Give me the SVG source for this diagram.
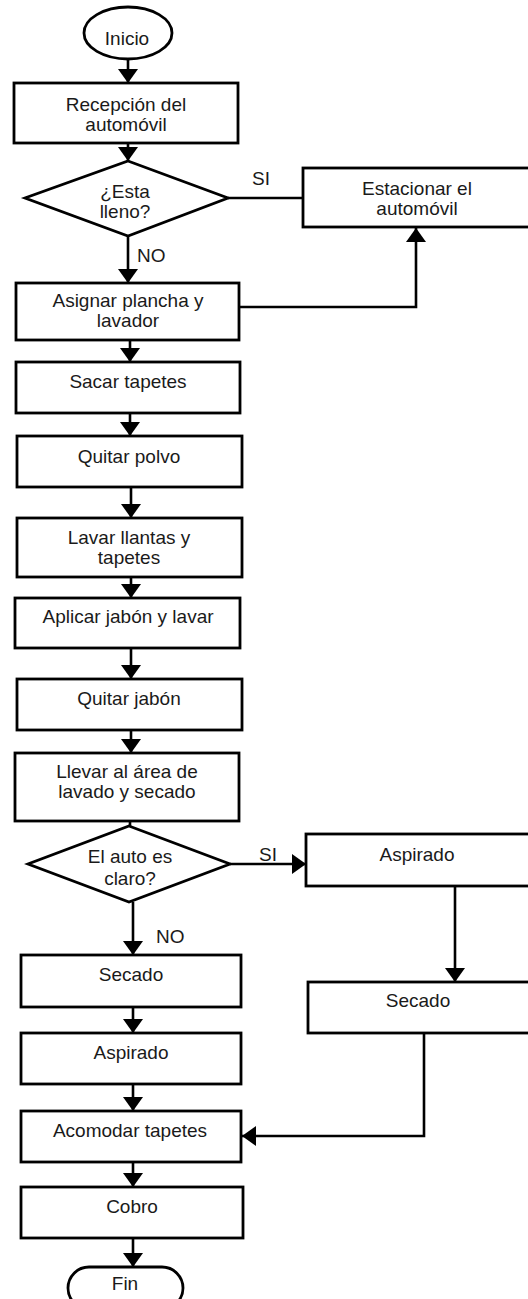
<svg xmlns="http://www.w3.org/2000/svg" width="528" height="1299" viewBox="0 0 528 1299">
<style>
.box{fill:#fff;stroke:#000;stroke-width:2.8}
.t{font-family:"Liberation Sans",Arial,sans-serif;font-size:19px;fill:#1a1a1a;text-anchor:middle}
.lbl{font-family:"Liberation Sans",Arial,sans-serif;font-size:19px;fill:#1a1a1a}
.c{fill:none;stroke:#000;stroke-width:2.6}
</style>
<defs>
<marker id="ah" markerUnits="userSpaceOnUse" markerWidth="14" markerHeight="20" refX="14" refY="10" orient="auto">
<path d="M0,0 L14,10 L0,20 z" fill="#000"/>
</marker>
</defs>
<rect width="528" height="1299" fill="#fff"/>
<g id="connectors">
<line class="c" x1="128" y1="59" x2="128" y2="83" marker-end="url(#ah)"/>
<line class="c" x1="128" y1="143" x2="128" y2="161" marker-end="url(#ah)"/>
<line class="c" x1="228" y1="198" x2="303" y2="198"/>
<line class="c" x1="128" y1="236" x2="128" y2="283" marker-end="url(#ah)"/>
<polyline class="c" points="239,307 416,307 416,228" marker-end="url(#ah)"/>
<line class="c" x1="130" y1="340" x2="130" y2="362" marker-end="url(#ah)"/>
<line class="c" x1="130" y1="413" x2="130" y2="436" marker-end="url(#ah)"/>
<line class="c" x1="131" y1="487" x2="131" y2="518" marker-end="url(#ah)"/>
<line class="c" x1="131" y1="577" x2="131" y2="598" marker-end="url(#ah)"/>
<line class="c" x1="131" y1="648" x2="131" y2="679" marker-end="url(#ah)"/>
<line class="c" x1="131" y1="730" x2="131" y2="753" marker-end="url(#ah)"/>
<line class="c" x1="130" y1="821" x2="130" y2="826"/>
<line class="c" x1="230" y1="864" x2="306" y2="864" marker-end="url(#ah)"/>
<line class="c" x1="133" y1="902" x2="133" y2="955" marker-end="url(#ah)"/>
<line class="c" x1="455" y1="886" x2="455" y2="982" marker-end="url(#ah)"/>
<polyline class="c" points="424,1033 424,1136 242,1136" marker-end="url(#ah)"/>
<line class="c" x1="133" y1="1007" x2="133" y2="1033" marker-end="url(#ah)"/>
<line class="c" x1="133" y1="1084" x2="133" y2="1111" marker-end="url(#ah)"/>
<line class="c" x1="133" y1="1162" x2="133" y2="1187" marker-end="url(#ah)"/>
<line class="c" x1="133" y1="1238" x2="133" y2="1267" marker-end="url(#ah)"/>
<text class="lbl" x="252" y="185">SI</text>
<text class="lbl" x="137" y="262">NO</text>
<text class="lbl" x="259" y="861">SI</text>
<text class="lbl" x="156" y="943">NO</text>
</g>
<g id="inicio">
<ellipse class="box" cx="128" cy="33" rx="44" ry="26" stroke-width="2"/>
<text class="t" x="127" y="45">Inicio</text>
</g>
<g id="recepcion">
<rect class="box" x="14" y="83" width="224" height="60"/>
<text class="t" x="126" y="111">Recepción del</text>
<text class="t" x="126" y="131">automóvil</text>
</g>
<g id="lleno">
<polygon class="box" points="128,161 228,198 128,236 25,198" stroke-width="2"/>
<text class="t" x="125" y="198">¿Esta</text>
<text class="t" x="125" y="218">lleno?</text>
</g>
<g id="estacionar">
<rect class="box" x="303" y="168" width="232" height="59"/>
<text class="t" x="417" y="195">Estacionar el</text>
<text class="t" x="417" y="215">automóvil</text>
</g>
<g id="asignar">
<rect class="box" x="16" y="283" width="223" height="57"/>
<text class="t" x="128" y="307">Asignar plancha y</text>
<text class="t" x="128" y="327">lavador</text>
</g>
<g id="sacar">
<rect class="box" x="16" y="362" width="224" height="51"/>
<text class="t" x="128" y="388">Sacar tapetes</text>
</g>
<g id="quitarpolvo">
<rect class="box" x="17" y="436" width="225" height="51"/>
<text class="t" x="129" y="463">Quitar polvo</text>
</g>
<g id="lavarllantas">
<rect class="box" x="17" y="518" width="225" height="59"/>
<text class="t" x="129" y="544">Lavar llantas y</text>
<text class="t" x="129" y="564">tapetes</text>
</g>
<g id="aplicar">
<rect class="box" x="15" y="598" width="225" height="50"/>
<text class="t" x="128" y="623">Aplicar jabón y lavar</text>
</g>
<g id="quitarjabon">
<rect class="box" x="17" y="679" width="225" height="51"/>
<text class="t" x="129" y="705">Quitar jabón</text>
</g>
<g id="llevar">
<rect class="box" x="15" y="753" width="224" height="68"/>
<text class="t" x="127" y="778">Llevar al área de</text>
<text class="t" x="127" y="798">lavado y secado</text>
</g>
<g id="claro">
<polygon class="box" points="129,826 230,864 129,902 28,864" stroke-width="2"/>
<text class="t" x="130" y="863">El auto es</text>
<text class="t" x="130" y="885">claro?</text>
</g>
<g id="aspirado2">
<rect class="box" x="306" y="834" width="230" height="52"/>
<text class="t" x="417" y="861">Aspirado</text>
</g>
<g id="secado2">
<rect class="box" x="308" y="982" width="228" height="51"/>
<text class="t" x="418" y="1007">Secado</text>
</g>
<g id="secado1">
<rect class="box" x="21" y="955" width="220" height="52"/>
<text class="t" x="131" y="981">Secado</text>
</g>
<g id="aspirado1">
<rect class="box" x="21" y="1033" width="220" height="51"/>
<text class="t" x="131" y="1059">Aspirado</text>
</g>
<g id="acomodar">
<rect class="box" x="21" y="1111" width="220" height="51"/>
<text class="t" x="130" y="1137">Acomodar tapetes</text>
</g>
<g id="cobro">
<rect class="box" x="21" y="1187" width="222" height="51"/>
<text class="t" x="132" y="1213">Cobro</text>
</g>
<g id="fin">
<rect class="box" x="68" y="1267" width="115" height="42" rx="21" ry="21" stroke-width="2"/>
<text class="t" x="125" y="1290">Fin</text>
</g>
</svg>
